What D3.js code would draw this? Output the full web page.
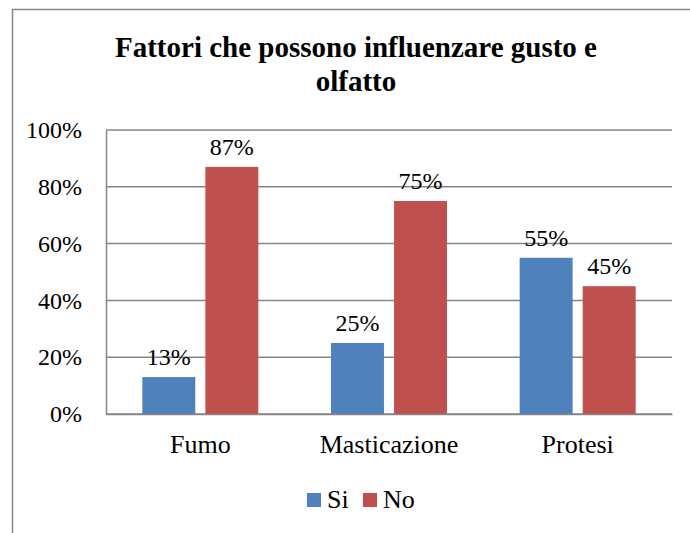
<!DOCTYPE html>
<html>
<head>
<meta charset="utf-8">
<script src="https://cdn.jsdelivr.net/npm/d3@7"></script>
<style>
  html, body { margin: 0; padding: 0; background: #fff; }
  svg text { font-family: "Liberation Serif", "Times New Roman", serif; }
</style>
</head>
<body>
<div id="plot"></div>
<script>
const categories = ["Fumo", "Masticazione", "Protesi"];
const seriesNames = ["Si", "No"];
const siValues = [13, 25, 55];
const noValues = [87, 75, 45];
const yTicks = [0, 20, 40, 60, 80, 100];
const titleLines = ["Fattori che possono influenzare gusto e", "olfatto"];

const width = 690;
const height = 533;
const marginTop = 130;
const marginLeft = 106;
const marginRight = 18;
const marginBottom = 119;
const fontSize = 24;
const colors = ["#4f81bd", "#c0504d"];

const data = categories.map((c, i) => ({
    category: c,
    values: [
        {key: "Si", value: siValues[i]},
        {key: "No", value: noValues[i]}
    ]
}));

const svg = d3.create("svg")
    .attr("width", width)
    .attr("height", height)
    .attr("viewBox", [0, 0, width, height]);

// cornice esterna
svg.append("rect")
    .attr("x", 12.5)
    .attr("y", 9.5)
    .attr("width", width + 10)
    .attr("height", height + 10)
    .attr("fill", "none")
    .attr("stroke", "#868686")
    .attr("stroke-width", 1.5);

const x0 = d3.scaleBand()
    .domain(categories)
    .range([marginLeft, width - marginRight]);

const x1 = d3.scaleBand()
    .domain(seriesNames)
    .range([0, 116])
    .paddingInner(0.16);

const y = d3.scaleLinear()
    .domain([0, 100])
    .range([height - marginBottom, marginTop]);

// griglia
svg.append("g")
    .selectAll("line")
    .data(yTicks)
    .join("line")
    .attr("x1", marginLeft)
    .attr("x2", width - marginRight)
    .attr("y1", d => y(d))
    .attr("y2", d => y(d))
    .attr("stroke", "#868686")
    .attr("stroke-width", 1.5);

// asse y
const yAxis = svg.append("g")
    .attr("transform", `translate(${marginLeft},0)`)
    .call(d3.axisLeft(y).tickValues(yTicks).tickFormat(d => d + "%").tickSize(0).tickPadding(24));
yAxis.attr("font-family", null).attr("font-size", null);
yAxis.select(".domain").attr("stroke", "#868686").attr("stroke-width", 1.5);
yAxis.selectAll("text")
    .attr("font-size", fontSize)
    .attr("fill", "#000");

// barre
const groups = svg.append("g")
    .selectAll("g")
    .data(data)
    .join("g")
    .attr("transform", d => `translate(${x0(d.category) + (x0.bandwidth() - 116) / 2},0)`);

groups.selectAll("rect")
    .data(d => d.values)
    .join("rect")
    .attr("x", d => x1(d.key))
    .attr("y", d => y(d.value))
    .attr("width", x1.bandwidth())
    .attr("height", d => y(0) - y(d.value))
    .attr("fill", (d, i) => colors[i]);

groups.selectAll("text")
    .data(d => d.values)
    .join("text")
    .attr("x", d => x1(d.key) + x1.bandwidth() / 2)
    .attr("y", d => y(d.value) - 12)
    .attr("text-anchor", "middle")
    .attr("font-size", fontSize)
    .text(d => d.value + "%");

// asse x
const xAxis = svg.append("g")
    .attr("transform", `translate(0,${height - marginBottom})`)
    .call(d3.axisBottom(x0).tickSize(0));
xAxis.attr("font-family", null).attr("font-size", null);
xAxis.select(".domain").attr("stroke", "#868686").attr("stroke-width", 1.5);
xAxis.selectAll("text")
    .attr("y", 39)
    .attr("dy", null)
    .attr("font-size", 26)
    .attr("fill", "#000");

// titolo
svg.append("text")
    .attr("text-anchor", "middle")
    .attr("font-weight", "bold")
    .attr("font-size", 29)
    .selectAll("tspan")
    .data(titleLines)
    .join("tspan")
    .attr("x", 356)
    .attr("y", (d, i) => 57 + i * 34)
    .text(d => d);

// legenda
const legend = svg.append("g")
    .attr("transform", "translate(307,508)");
const items = legend.selectAll("g")
    .data(seriesNames)
    .join("g")
    .attr("transform", (d, i) => `translate(${i * 56},0)`);
items.append("rect")
    .attr("x", 0)
    .attr("y", -15)
    .attr("width", 14)
    .attr("height", 14)
    .attr("fill", (d, i) => colors[i]);
items.append("text")
    .attr("x", 20)
    .attr("y", 0)
    .attr("font-size", 26)
    .text(d => d);

document.getElementById("plot").appendChild(svg.node());
</script>
</body>
</html>
